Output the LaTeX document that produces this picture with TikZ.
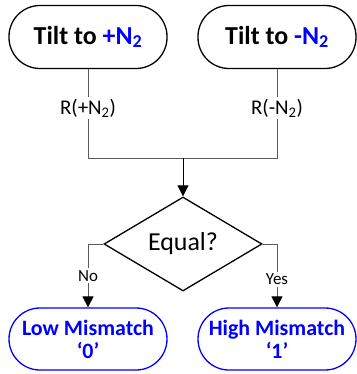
\documentclass[tikz,border=0pt]{standalone}
\usepackage{fontspec}
\setmainfont{Carlito}
\definecolor{pureblue}{RGB}{0,0,255}
\definecolor{linegray}{RGB}{90,90,90}
\usepackage{tikz}
\usetikzlibrary{arrows.meta, shapes.geometric, positioning}

\begin{document}
\begin{tikzpicture}[x=1bp, y=-1bp,
  term/.style={draw, line width=1.3bp, rounded corners=31bp, minimum width=158bp,
    minimum height=63bp, inner sep=0pt, align=center},
  tilt/.style={term, font=\fontsize{26}{30}\selectfont\bfseries},
  outcome/.style={term, draw=pureblue, text=pureblue, minimum height=62bp,
    font=\fontsize{22}{23}\selectfont\bfseries},
  decision/.style={draw, diamond, line width=1.3bp, minimum width=158bp,
    minimum height=94bp, inner sep=0pt, aspect=1.68,
    font=\fontsize{26}{28}\selectfont},
  conn/.style={draw=linegray, line width=1bp},
  arw/.style={-{Triangle[length=11bp, width=11bp, color=black]}},
  lbl/.style={fill=white, inner sep=2bp, font=\fontsize{21}{22}\selectfont},
  yn/.style={fill=white, inner sep=2bp, font=\fontsize{17}{19}\selectfont},
]
\useasboundingbox (0,0) rectangle (357,374);

% Two tilt states
\node[tilt] (tiltp) at (88,37) {Tilt to \textcolor{pureblue}{+N\textsubscript{2}}};
\node[tilt] (tiltm) at (277,37) {Tilt to \textcolor{pureblue}{-N\textsubscript{2}}};
\coordinate (join) at (183,158);

% Comparison
\node[decision] (equal) at (183,244) {Equal?};

% Outcomes
\node[outcome] (low) at (88,339) {Low Mismatch\\‘0’};
\node[outcome] (high) at (277,339) {High Mismatch\\‘1’};

% Readings merge into the comparison
\draw[conn] (tiltp.south) -- node[lbl, pos=0.44] {R(+N\textsubscript{2})} (tiltp.south |- join) -- (join);
\draw[conn] (tiltm.south) -- node[lbl, pos=0.44] {R(-N\textsubscript{2})} (tiltm.south |- join) -- (join);
\draw[arw, line width=1bp] (join) -- (equal.north);

% Branches
\draw[conn, arw] (equal.west) -| node[yn, pos=0.75] {No} (low.north);
\draw[conn, arw] (equal.east) -| node[yn, pos=0.78] {Yes} (high.north);
\end{tikzpicture}
\end{document}
